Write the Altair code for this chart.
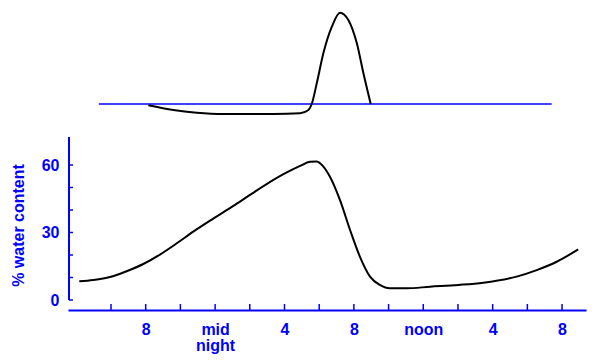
import json
import altair as alt
import pandas as pd

# ---- data ----
water_hours = [16.17, 16.98, 17.94, 18.90, 19.86, 20.82, 21.79, 22.74, 23.71, 25.05,
               26.01, 26.97, 27.94, 28.90, 29.47, 29.86, 30.05, 30.62, 31.20, 31.78,
               32.35, 32.93, 33.50, 34.08, 35.04, 36.39, 38.02, 39.46, 41.38, 42.54,
               43.69, 44.93]
water_pct = [8.3, 8.9, 10.2, 12.8, 16.0, 20.2, 25.2, 30.4, 35.3, 41.8,
             46.7, 51.5, 55.9, 59.6, 61.4, 61.6, 60.8, 54.8, 44.4, 31.1,
             19.2, 10.4, 6.7, 5.2, 5.2, 5.9, 6.7, 7.7, 10.4, 13.3,
             17.0, 22.5]

rate_hours = [20.15, 21.59, 22.94, 24.47, 27.36, 28.90, 29.38, 29.57, 29.86, 30.24,
              30.73, 31.20, 31.68, 32.17, 32.55, 32.97]
rate_values = [-1.3, -6, -8.7, -10, -10, -9.3, -6, 0, 20.7, 50.7,
               77.3, 91.3, 84, 60.7, 30.7, 0]

baseline_hours = [17.3, 43.4]
baseline_values = [0, 0]

x_tick_hours = [18, 20, 22, 24, 26, 28, 30, 32, 34, 36, 38, 40, 42, 44]
x_label_hours = [20, 24, 28, 32, 36, 40, 44]
x_label_texts = ["8", ["mid", "night"], "4", "8", "noon", "4", "8"]
y_tick_values = [0, 10, 20, 30, 40, 50, 60]
y_label_values = [0, 30, 60]
y_axis_extent = [0, 72.4]

x_domain = [15.52, 45.38]
water_domain = [0, 129.78]
rate_domain = [-196, 96]

BLUE = "#0000ff"
FONT = "Liberation Sans"

label_expr = ""
for h, t in zip(x_label_hours, x_label_texts):
    label_expr += f"datum.value == {h} ? {json.dumps(t)} : "
label_expr += "''"

xscale = alt.Scale(domain=x_domain, nice=False, zero=False)
wscale = alt.Scale(domain=water_domain, nice=False, zero=False)
rscale = alt.Scale(domain=rate_domain, nice=False, zero=False)

x_axis = alt.Axis(
    values=x_label_hours, labelExpr=label_expr, title=None, offset=10,
    domainColor=BLUE, domainWidth=2, ticks=False, tickSize=0,
    labelPadding=11, labelColor=BLUE, labelFont=FONT, labelFontSize=16,
    labelFontWeight="bold", labelLineHeight=16, grid=False,
    labelAlign="center", labelBaseline="top", labelFlush=False,
    labelOverlap=False)

X = alt.X("hour:Q", scale=xscale, axis=x_axis)

water_df = pd.DataFrame({"hour": water_hours, "pct": water_pct})
rate_df = pd.DataFrame({"hour": rate_hours, "rate": rate_values})
base_df = pd.DataFrame({"hour": baseline_hours, "rate": baseline_values})
xt_df = pd.DataFrame({"hour": x_tick_hours})
yt_df = pd.DataFrame({"pct": y_tick_values})
ya_df = pd.DataFrame({"lo": [y_axis_extent[0]], "hi": [y_axis_extent[1]]})

water = alt.Chart(water_df).mark_line(
    color="black", strokeWidth=2, interpolate="monotone"
).encode(
    x=X,
    y=alt.Y("pct:Q", scale=wscale, axis=alt.Axis(
        values=y_label_values, domain=False, ticks=False, tickSize=0,
        labelPadding=9, labelColor=BLUE, labelFont=FONT, labelFontSize=16,
        labelFontWeight="bold", grid=False, labelFlush=False, labelOverlap=False,
        title="% water content", titleColor=BLUE, titleFont=FONT,
        titleFontSize=16, titleFontWeight="bold", titleX=-45, titleY=217,
        titleAlign="center", titleBaseline="alphabetic", titleAngle=270)),
)

baseline = alt.Chart(base_df).mark_line(color=BLUE, strokeWidth=1.5).encode(
    x=X,
    y=alt.Y("rate:Q", scale=rscale, axis=None),
)

rate_curve = alt.Chart(rate_df).mark_line(
    color="black", strokeWidth=2, interpolate="monotone"
).encode(
    x=X,
    y=alt.Y("rate:Q", scale=rscale, axis=None),
)

y_axis_line = alt.Chart(ya_df).mark_rule(color=BLUE, strokeWidth=2).encode(
    y=alt.Y("lo:Q", scale=wscale, axis=None),
    y2="hi:Q",
    x=alt.value(1),
)

y_ticks = alt.Chart(yt_df).mark_rule(color=BLUE, strokeWidth=1.5).encode(
    y=alt.Y("pct:Q", scale=wscale, axis=None),
    x=alt.value(1),
    x2=alt.value(5),
)

x_ticks = alt.Chart(xt_df).mark_rule(color=BLUE, strokeWidth=1.5).encode(
    x=X,
    y=alt.value(296),
    y2=alt.value(302),
)

chart = alt.layer(
    water, baseline, rate_curve, y_axis_line, y_ticks, x_ticks
).resolve_scale(
    y="independent"
).properties(
    width=518, height=292,
    padding={"left": 60, "top": 0, "right": 6, "bottom": 54},
    autosize=alt.AutoSizeParams(type="none"),
    background="white",
).configure_view(stroke=None)

chart.save("out.html", embed_options={"renderer": "svg", "actions": False})
